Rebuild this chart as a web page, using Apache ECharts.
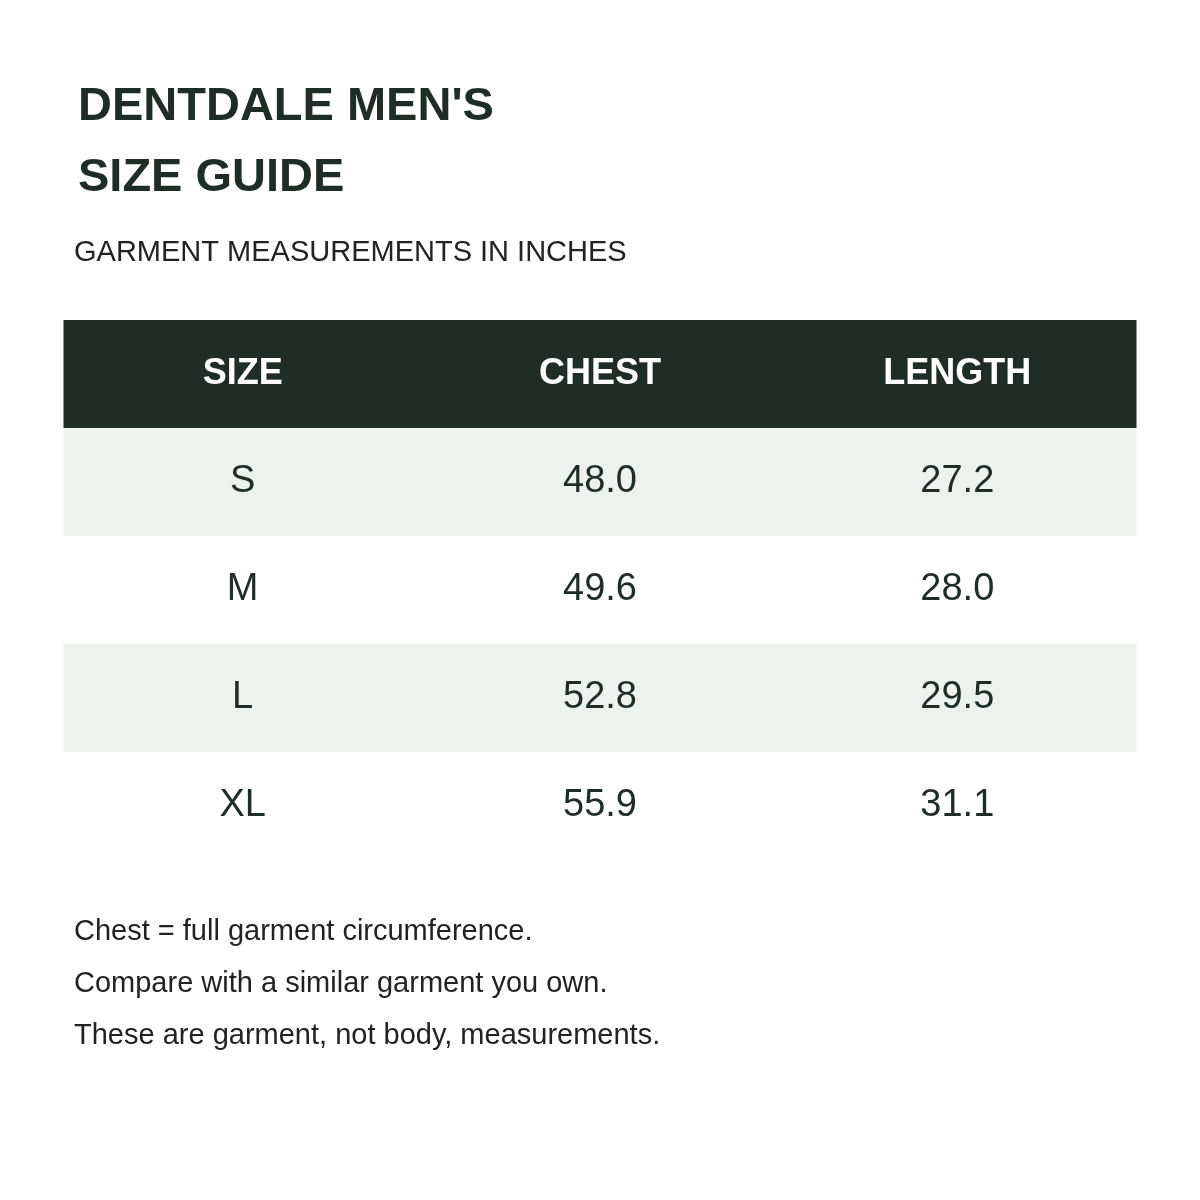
<!DOCTYPE html>
<html><head><meta charset="utf-8">
<script src="https://cdn.jsdelivr.net/npm/echarts@6/dist/echarts.min.js"></script>
<style>html,body{margin:0;padding:0;background:#fff}#c{width:1200px;height:1200px}</style>
</head><body><div id="c"></div>
<script>
const columns = ['SIZE', 'CHEST', 'LENGTH'];
const sizes = ['S', 'M', 'L', 'XL'];
const chest = ['48.0', '49.6', '52.8', '55.9'];
const length = ['27.2', '28.0', '29.5', '31.1'];
const notes = ['Chest = full garment circumference.', 'Compare with a similar garment you own.', 'These are garment, not body, measurements.'];

const rows = ['header'].concat(sizes);
const data = [];
columns.forEach((c, i) => data.push([i, 0, c]));
sizes.forEach((s, r) => {
  data.push([0, r + 1, s]);
  data.push([1, r + 1, chest[r]]);
  data.push([2, r + 1, length[r]]);
});
const F = '"Liberation Sans", Arial, sans-serif';
const dark = '#1f2d26';
const chart = echarts.init(document.getElementById('c'));
chart.setOption({
  backgroundColor: '#fff',
  animation: false,
  grid: { left: 64, right: 64, top: 320, bottom: 340 },
  xAxis: { type: 'category', data: columns, show: false },
  yAxis: { type: 'category', data: rows, inverse: true, show: false },
  graphic: [
    { type: 'text', left: 78, top: 84, style: { text: "DENTDALE MEN'S", font: 'bold 47px ' + F, fill: dark } },
    { type: 'text', left: 78, top: 155, style: { text: 'SIZE GUIDE', font: 'bold 47px ' + F, fill: dark } },
    { type: 'text', left: 74, top: 238, style: { text: 'GARMENT MEASUREMENTS IN INCHES', font: '29px ' + F, fill: '#222' } }
  ].concat(notes.map((n, i) => ({ type: 'text', left: 74, top: 917 + i * 52, style: { text: n, font: '29px ' + F, fill: '#222' } }))),
  series: [{
    type: 'custom',
    data: data,
    renderItem: (params, api) => {
      const col = api.value(0), row = api.value(1);
      const p = api.coord([col, row]);
      const s = api.size([1, 1]);
      const fill = row === 0 ? dark : (row % 2 === 1 ? '#edf2ee' : '#ffffff');
      const txt = data[params.dataIndex][2];
      return {
        type: 'group',
        children: [
          { type: 'rect', shape: { x: p[0] - s[0] / 2 - 0.5, y: p[1] - s[1] / 2, width: s[0] + 1, height: s[1] }, style: { fill: fill } },
          { type: 'text', x: p[0], y: p[1], style: {
            text: txt, align: 'center', verticalAlign: 'middle',
            font: row === 0 ? 'bold 36px ' + F : '38px ' + F,
            fill: row === 0 ? '#ffffff' : dark } }
        ]
      };
    }
  }]
});
</script></body></html>
